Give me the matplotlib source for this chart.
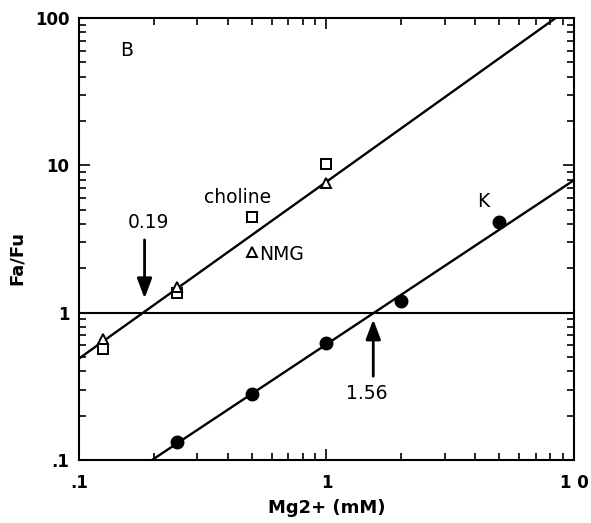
import numpy as np
import matplotlib
matplotlib.use("Agg")
import matplotlib.pyplot as plt
from matplotlib.ticker import FixedLocator, FixedFormatter, LogLocator, NullFormatter

plt.rcParams['font.family'] = ['DejaVu Sans']

# Data
mg = [0.125, 0.25, 0.5, 1.0]
choline = [0.565, 1.35, 4.45, 10.2]
nmg = [0.66, 1.50, 2.58, 7.6]
k_mg = [0.25, 0.5, 1.0, 2.0, 5.0]
k_vals = [0.133, 0.28, 0.62, 1.2, 4.1]

# Fitted lines: slope (log-log) and value at Mg = 1 mM
upper_slope, upper_at1 = 1.2, 7.74
lower_slope, lower_at1 = 1.114, 0.61

x_ticks = [0.1, 1, 10]
x_ticklabels = ['.1', '1', '1 0']
y_ticks = [0.1, 1, 10, 100]
y_ticklabels = ['.1', '1', '10', '100']

fig = plt.figure(figsize=(5.91, 5.23), dpi=100)
ax = fig.add_axes([0.1337, 0.1205, 0.8375, 0.8451])
ax.set_xscale('log')
ax.set_yscale('log')
ax.set_xlim(0.1, 10)
ax.set_ylim(0.1, 100)

xx = np.logspace(-1, 1, 200)
ax.plot(xx, upper_at1 * xx ** upper_slope, color='black', lw=1.7)
ax.plot(xx, lower_at1 * xx ** lower_slope, color='black', lw=1.7)
ax.axhline(1, color='black', lw=1.5)

ax.plot(mg, choline, linestyle='none', marker='s', ms=7.5, mfc='white', mec='black', mew=1.4, zorder=5)
ax.plot(mg, nmg, linestyle='none', marker='^', ms=7.5, mfc='white', mec='black', mew=1.4, zorder=5)
ax.plot(k_mg, k_vals, linestyle='none', marker='o', ms=9, mfc='black', mec='black', zorder=5)

arrowprops = dict(arrowstyle='-|>,head_length=1.2,head_width=0.45', color='black', lw=2.0,
                  shrinkA=0, shrinkB=0, mutation_scale=10)
ax.annotate('', xy=(0.184, 1.25), xytext=(0.184, 3.12), arrowprops=arrowprops)
ax.annotate('', xy=(1.545, 0.90), xytext=(1.545, 0.37), arrowprops=arrowprops)

fs = 13.5
ax.text(0.19, 4.08, '0.19', ha='center', va='center', fontsize=fs)
ax.text(1.46, 0.284, '1.56', ha='center', va='center', fontsize=fs)
ax.text(0.156, 60, 'B', ha='center', va='center', fontsize=fs)
ax.text(0.436, 6.07, 'choline', ha='center', va='center', fontsize=fs)
ax.text(0.535, 2.5, 'NMG', ha='left', va='center', fontsize=fs)
ax.text(4.3, 5.68, 'K', ha='center', va='center', fontsize=fs)

ax.xaxis.set_major_locator(FixedLocator(x_ticks))
ax.xaxis.set_major_formatter(FixedFormatter(x_ticklabels))
ax.yaxis.set_major_locator(FixedLocator(y_ticks))
ax.yaxis.set_major_formatter(FixedFormatter(y_ticklabels))
ax.xaxis.set_minor_locator(LogLocator(base=10, subs=np.arange(2, 10)))
ax.yaxis.set_minor_locator(LogLocator(base=10, subs=np.arange(2, 10)))
ax.xaxis.set_minor_formatter(NullFormatter())
ax.yaxis.set_minor_formatter(NullFormatter())

ax.tick_params(which='both', direction='in', top=True, right=True, width=1.2)
ax.tick_params(which='major', length=8, labelsize=12)
ax.tick_params(which='minor', length=5)
ax.tick_params(axis='x', which='major', pad=10)
ax.tick_params(axis='y', which='major', pad=7)
for lab in ax.get_xticklabels() + ax.get_yticklabels():
    lab.set_fontweight('bold')
for s in ax.spines.values():
    s.set_linewidth(1.5)

ax.set_xlabel('Mg2+ (mM)', fontsize=13, fontweight='bold', labelpad=5)
ax.set_ylabel('Fa/Fu', fontsize=13, fontweight='bold')
ax.yaxis.set_label_coords(-0.108, 0.456)

fig.savefig('out.png', dpi=100)
